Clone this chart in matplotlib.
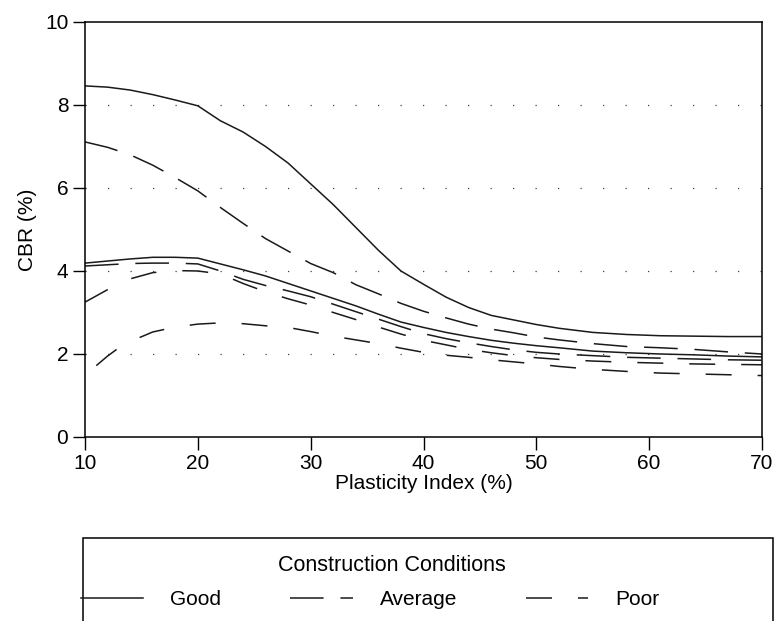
import numpy as np
import matplotlib
matplotlib.use('Agg')
import matplotlib.pyplot as plt
from matplotlib.patches import Rectangle

plt.rcParams['font.family'] = ['Liberation Sans', 'DejaVu Sans']

# values (x = plasticity index, y = CBR)
pi_x = [10, 12, 14, 16, 18, 20, 22, 24, 26, 28, 30, 32, 34, 36, 38, 40, 42, 44, 46, 48, 50, 52, 55, 58, 61, 64, 67, 70]

good_hi = [8.46, 8.43, 8.36, 8.25, 8.12, 7.98, 7.62, 7.35, 7.0, 6.6, 6.1, 5.6, 5.05, 4.5, 4.0, 3.68, 3.37, 3.12, 2.93, 2.82, 2.71, 2.62, 2.52, 2.47, 2.44, 2.43, 2.42, 2.42]
avg_hi = [7.11, 6.98, 6.8, 6.55, 6.25, 5.93, 5.53, 5.15, 4.78, 4.48, 4.18, 3.96, 3.67, 3.45, 3.22, 3.03, 2.87, 2.72, 2.6, 2.51, 2.41, 2.34, 2.25, 2.18, 2.15, 2.11, 2.05, 2.0]
good_lo = [4.19, 4.24, 4.29, 4.33, 4.33, 4.31, 4.17, 4.03, 3.88, 3.7, 3.52, 3.34, 3.16, 2.96, 2.77, 2.64, 2.52, 2.42, 2.33, 2.26, 2.2, 2.15, 2.07, 2.03, 2.0, 1.98, 1.95, 1.93]
avg_lo = [4.12, 4.15, 4.18, 4.19, 4.19, 4.17, 4.0, 3.8, 3.65, 3.52, 3.38, 3.2, 3.02, 2.84, 2.66, 2.49, 2.37, 2.27, 2.18, 2.1, 2.04, 2.0, 1.96, 1.92, 1.9, 1.88, 1.86, 1.85]
poor_hi = [3.25, 3.55, 3.81, 3.96, 4.01, 4.0, 3.93, 3.7, 3.5, 3.33, 3.18, 3.0, 2.83, 2.65, 2.48, 2.33, 2.22, 2.11, 2.03, 1.96, 1.91, 1.87, 1.83, 1.8, 1.78, 1.76, 1.75, 1.74]

poor_lo_x = [11, 12, 13, 14, 16, 18, 20, 22, 24, 26, 28, 30, 32, 34, 36, 38, 40, 42, 44, 46, 48, 50, 52, 55, 58, 61, 64, 67, 70]
poor_lo = [1.72, 1.95, 2.15, 2.3, 2.53, 2.65, 2.72, 2.75, 2.73, 2.68, 2.64, 2.54, 2.43, 2.34, 2.25, 2.14, 2.04, 1.97, 1.92, 1.86, 1.81, 1.76, 1.7, 1.63, 1.58, 1.54, 1.52, 1.5, 1.48]

labels = ['Good', 'Average', 'Poor']

fig = plt.figure(figsize=(7.77, 6.21), dpi=100)
ax = fig.add_axes([0.1094, 0.2963, 0.8713, 0.6683])

col = '#1a1a1a'
ls_good = '-'
ls_avg = (0, (22, 11))
ls_poor = (0, (17, 17))

for yv in [2, 4, 6, 8]:
    ax.axhline(yv, color='#444444', lw=0.9, ls=(0, (1, 17)), zorder=1)

l1, = ax.plot(pi_x, good_hi, color=col, lw=1.1, ls=ls_good)
ax.plot(pi_x, good_lo, color=col, lw=1.1, ls=ls_good)
l2, = ax.plot(pi_x, avg_hi, color=col, lw=1.1, ls=ls_avg)
ax.plot(pi_x, avg_lo, color=col, lw=1.1, ls=ls_avg)
l3, = ax.plot(pi_x, poor_hi, color=col, lw=1.1, ls=ls_poor)
ax.plot(poor_lo_x, poor_lo, color=col, lw=1.1, ls=ls_poor)

ax.set_xlim(10, 70)
ax.set_ylim(0, 10)
ax.set_xticks(range(10, 71, 10))
ax.set_yticks(range(0, 11, 2))
ax.tick_params(direction='out', length=9, width=1, labelsize=15, pad=3)
for s in ax.spines.values():
    s.set_linewidth(1.1)

ax.set_xlabel('Plasticity Index (%)', fontsize=15, labelpad=1)
ax.set_ylabel('CBR (%)', fontsize=15, labelpad=6)

# legend box (cut off at bottom, as in the reference)
fig.patches.append(Rectangle((0.107, -0.05), 0.888, 0.1837, transform=fig.transFigure,
                             fill=False, lw=1.1, edgecolor='black'))
fig.text(0.504, 0.09, 'Construction Conditions', fontsize=15.5, ha='center', va='center')
leg = fig.legend([l1, l2, l3], labels, loc='center left', bbox_to_anchor=(0.08, 0.034),
                 ncol=3, frameon=False, fontsize=15, handlelength=3.0, handletextpad=1.3,
                 columnspacing=3.3)

fig.savefig('out.png', dpi=100)
